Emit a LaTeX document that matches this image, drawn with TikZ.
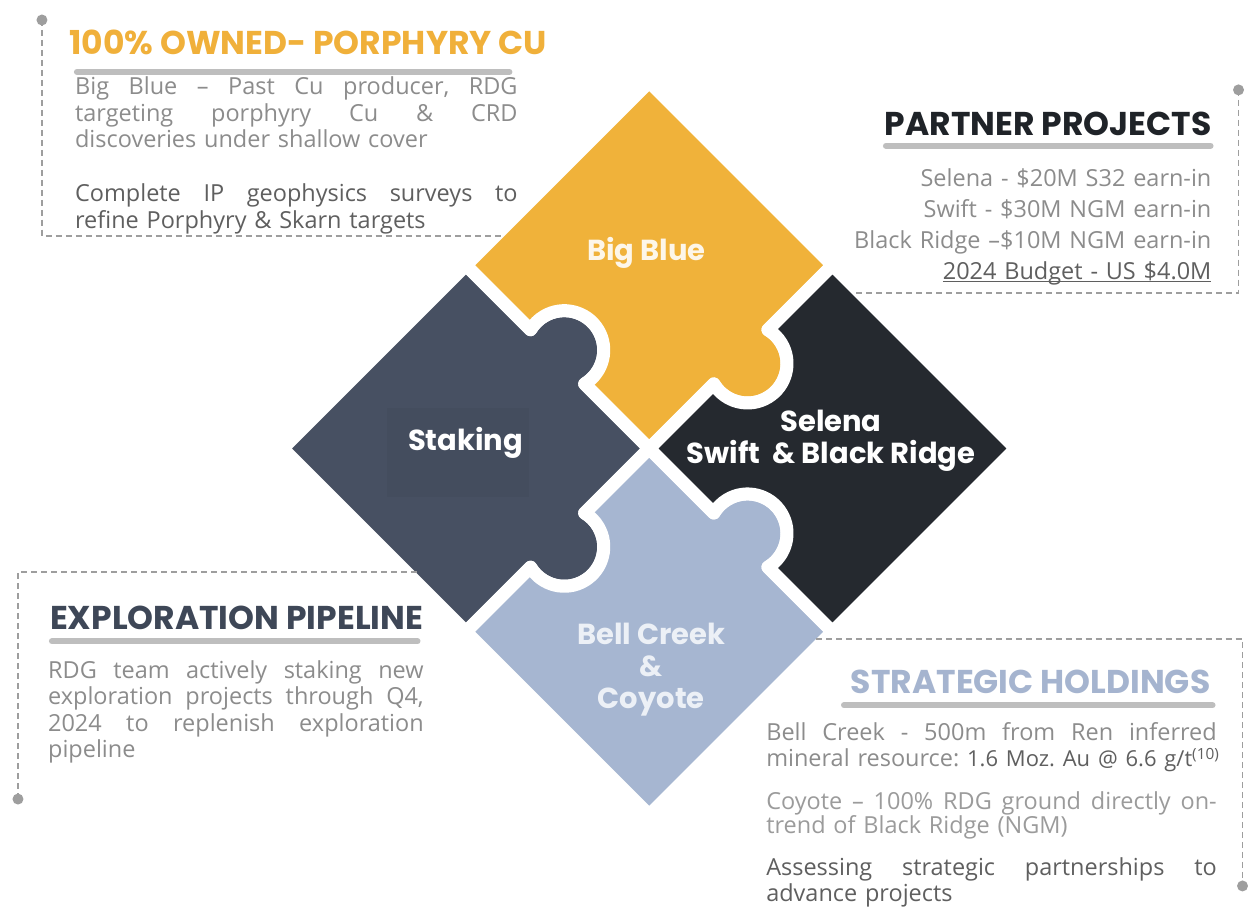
\documentclass[tikz,border=0pt]{standalone}
\usepackage{fontspec}
\setmainfont{Open Sans}
\newfontfamily\headfont{Poppins}
\definecolor{puzzleyellow}{RGB}{240,178,58}
\definecolor{puzzleslate}{RGB}{71,80,98}
\definecolor{stakingbox}{RGB}{68,77,94}
\definecolor{puzzledark}{RGB}{37,41,47}
\definecolor{puzzleblue}{RGB}{166,182,209}
\definecolor{labelcream}{RGB}{253,246,233}
\definecolor{labelblue}{RGB}{236,240,246}
\definecolor{titleorange}{RGB}{240,176,58}
\definecolor{titledark}{RGB}{31,35,40}
\definecolor{titleslate}{RGB}{62,71,87}
\definecolor{titleblue}{RGB}{165,180,207}
\definecolor{bodygray}{RGB}{140,140,140}
\definecolor{bodylight}{RGB}{155,155,155}
\definecolor{bodydark}{RGB}{95,95,95}
\definecolor{guidegray}{RGB}{158,158,158}
\definecolor{bargray}{RGB}{190,190,190}
\newcommand{\jline}[2]{\makebox[#1][s]{\spaceskip=.3em plus 1fil\relax#2}}
\setlength{\parindent}{0pt}
\frenchspacing

\begin{document}
\begin{tikzpicture}[x=1pt,y=-1pt,
    piece/.style={draw=white, line width=13pt, line join=round},
    label/.style={inner sep=0pt, text=white, align=center, font=\headfont\bfseries\fontsize{29}{32}\selectfont},
    title/.style={inner sep=0pt, font=\headfont\bfseries\fontsize{33}{33}\selectfont},
    bar/.style={draw=bargray, line width=6pt, line cap=round},
    para/.style={inner sep=0pt, anchor=north west, align=left, text=bodygray, font=\fontsize{23.5}{26.5}\selectfont},
    guide/.style={draw=guidegray, line width=1.8pt, dash pattern=on 6pt off 4pt},
    guidedot/.style={fill=guidegray}]
    \fill[white] (0,0) rectangle (1248,906);
    % puzzle, drawn square in its own frame and turned onto its corner
    \def\plen{259.5}
    \def\pmid{129.75}
    \def\knobr{39.5}
    \def\knobh{38.34}
    \def\knoba{103.92}
    \def\knobb{13.92}
    \begin{scope}[shift={(650pt,-449pt)}, x={(0.7071pt,0.7071pt)}, y={(0.7071pt,-0.7071pt)}]
        % Staking (left)
        \filldraw[piece, fill=puzzleslate] (-\plen,-\plen) -- (0,-\plen) -- (0,-\pmid-\knobh)
            arc[start angle=-\knoba, end angle=\knoba, radius=\knobr] -- (0,0) -- (-\pmid+\knobh,0)
            arc[start angle=-\knobb, end angle=180+\knobb, radius=\knobr] -- (-\plen,0) -- cycle;
        % Big Blue (top)
        \filldraw[piece, fill=puzzleyellow] (0,-\plen) -- (\plen,-\plen) -- (\plen,0) -- (\pmid+\knobh,0)
            arc[start angle=-\knobb, end angle=180+\knobb, radius=\knobr] -- (0,0) -- (0,-\pmid+\knobh)
            arc[start angle=\knoba, end angle=-\knoba, radius=\knobr] -- cycle;
        % Bell Creek (bottom)
        \filldraw[piece, fill=puzzleblue] (-\plen,0) -- (-\pmid-\knobh,0)
            arc[start angle=180+\knobb, end angle=-\knobb, radius=\knobr] -- (0,0) -- (0,\pmid-\knobh)
            arc[start angle=-\knoba, end angle=\knoba, radius=\knobr] -- (0,\plen) -- (-\plen,\plen) -- cycle;
        % Selena (right)
        \filldraw[piece, fill=puzzledark] (0,0) -- (\pmid-\knobh,0)
            arc[start angle=180+\knobb, end angle=-\knobb, radius=\knobr] -- (\plen,0) -- (\plen,\plen) -- (0,\plen) -- (0,\pmid+\knobh)
            arc[start angle=\knoba, end angle=-\knoba, radius=\knobr] -- cycle;
    \end{scope}
    \fill[stakingbox] (387,408) rectangle (530,498);
    \node[label, text=labelcream] (bigblue) at (647,253) {Big Blue};
    \node[label] (staking) at (466,443) {Staking};
    \node[label] (selena) at (832,441) {Selena\\Swift\ \ \& Black Ridge};
    \node[label, text=labelblue] (bellcreek) at (652,670) {Bell Creek\\\&\\Coyote};

    % top left: owned
    \coordinate (owned dot) at (42,20);
    \coordinate (owned bend) at (42,236);
    \coordinate (owned end) at (505,236);
    \draw[guide] (owned dot) -- (owned bend) -- (owned end);
    \fill[guidedot] (owned dot) circle (5.5);
    \node[title, text=titleorange, anchor=base west] (owned title) at (69,55) {100\% OWNED- PORPHYRY CU};
    \draw[bar] (77,72) -- (510,72);
    \node[para, text width=443pt] (owned text) at (75,77) {%
        \jline{443pt}{Big Blue – Past Cu producer, RDG}\\
        \jline{443pt}{targeting porphyry Cu \& CRD}\\
        discoveries under shallow cover};
    \node[para, text width=443pt, text=bodydark] (owned plan) at (75,184) {%
        \jline{443pt}{Complete IP geophysics surveys to}\\
        refine Porphyry \& Skarn targets};

    % top right: partners
    \coordinate (partner dot) at (1240,90);
    \coordinate (partner bend) at (1240,293);
    \coordinate (partner end) at (856,293);
    \draw[guide] (partner dot) -- (partner bend) -- (partner end);
    \fill[guidedot] (partner dot) circle (5.5);
    \node[title, text=titledark, anchor=base east] (partner title) at (1213,136) {PARTNER PROJECTS};
    \draw[bar] (887,146) -- (1212,146);
    \node[para, anchor=north east, align=right, text width=400pt, font=\fontsize{23.5}{31}\selectfont] (partner text) at (1213,169) {%
        Selena - \$20M S32 earn-in\\
        Swift - \$30M NGM earn-in\\
        Black Ridge –\$10M NGM earn-in\\
        {\color{bodydark}\underline{\smash{2024 Budget - US \$4.0M}}}};

    % bottom left: pipeline
    \coordinate (pipeline end) at (417,573);
    \coordinate (pipeline bend) at (18,573);
    \coordinate (pipeline dot) at (18,800);
    \draw[guide] (pipeline end) -- (pipeline bend) -- (pipeline dot);
    \fill[guidedot] (pipeline dot) circle (5.5);
    \node[title, text=titleslate, anchor=base west] (pipeline title) at (50,630) {EXPLORATION PIPELINE};
    \draw[bar] (52,642) -- (418,642);
    \node[para, text width=376pt] (pipeline text) at (48,661) {%
        \jline{376pt}{RDG team actively staking new}\\
        \jline{376pt}{exploration projects through Q4,}\\
        \jline{376pt}{2024 to replenish exploration}\\
        pipeline};

    % bottom right: holdings
    \coordinate (holding end) at (817,640);
    \coordinate (holding bend) at (1244,640);
    \coordinate (holding dot) at (1244,887);
    \draw[guide] (holding end) -- (holding bend) -- (holding dot);
    \fill[guidedot] (holding dot) circle (5.5);
    \node[title, text=titleblue, anchor=base east] (holding title) at (1212,694) {STRATEGIC HOLDINGS};
    \draw[bar] (845,706) -- (1214,706);
    \node[para, text width=460pt] (bell text) at (767,723) {%
        \jline{451pt}{Bell Creek - 500m from Ren inferred}\\
        mineral resource: {\color{bodydark}\fontsize{22}{26.5}\selectfont 1.6 Moz. Au @ 6.6 g/t\textsuperscript{(10)}}};
    \node[para, text width=460pt, text=bodylight, font=\fontsize{23.5}{20.5}\selectfont] (coyote text) at (767,792) {%
        \jline{451pt}{Coyote – 100\% RDG ground directly on-}\\
        trend of Black Ridge (NGM)};
    \node[para, text width=460pt, text=bodydark] (assess text) at (767,858) {%
        \jline{451pt}{Assessing strategic partnerships to}\\
        advance projects};
\end{tikzpicture}
\end{document}
